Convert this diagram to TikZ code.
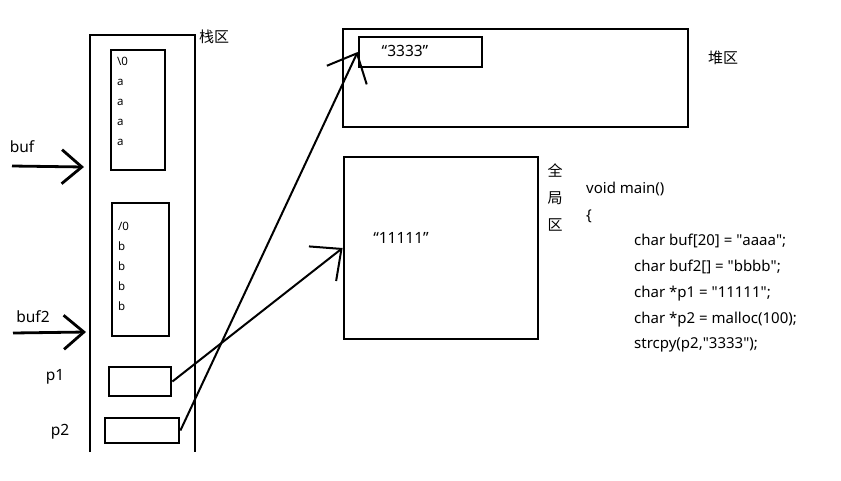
\documentclass[tikz,border=0pt]{standalone}
\usepackage{fontspec}
\setmainfont{Noto Sans}
\newfontfamily\cjk{Noto Sans CJK SC}
\usetikzlibrary{arrows.meta}

\begin{document}
\begin{tikzpicture}[x=1pt, y=-1pt,
    box/.style={draw, line width=2.8pt, inner sep=0pt},
    char/.style={font=\fontsize{11.5}{13}\selectfont, inner sep=0pt, anchor=base west},
    code/.style={font=\fontsize{15}{17}\selectfont, inner sep=0pt, anchor=base west},
    var/.style={font=\fontsize{15.5}{17}\selectfont, inner sep=0pt},
    zone/.style={font=\cjk\fontsize{15}{27}\selectfont, inner sep=0pt, align=center},
    hand/.style={line width=2.8pt, -{Straight Barb[length=20pt, width=34pt]}},
    ptr/.style={line width=2pt, -{Straight Barb[length=24pt, width=44pt]}}]

\useasboundingbox (0,0) rectangle (841,480);

% stack
\draw[line width=2.8pt] (90,452) -- (90,35) -- (195,35) -- (195,452);
\node[zone] (stacklabel) at (214,37) {栈区};

\node[box, minimum width=54pt, minimum height=120pt] (buf) at (138,110) {};
\node[char] (a0) at (117,65) {\textbackslash0};
\node[char] (a1) at (117,85) {a};
\node[char] (a2) at (117,105) {a};
\node[char] (a3) at (117,125) {a};
\node[char] (a4) at (117,145) {a};

\node[box, minimum width=57pt, minimum height=133pt] (buf2) at (140.5,269.5) {};
\node[char] (b0) at (118,230) {/0};
\node[char] (b1) at (118,250) {b};
\node[char] (b2) at (118,270) {b};
\node[char] (b3) at (118,290) {b};
\node[char] (b4) at (118,310) {b};

\node[box, minimum width=62pt, minimum height=29pt] (p1) at (140,381.5) {};
\node[box, minimum width=74pt, minimum height=25pt] (p2) at (142,430.5) {};

\node[var] (buflabel) at (22,147) {buf};
\node[var] (buf2label) at (33,317) {buf2};
\node[var] (p1label) at (55,377) {p1};
\node[var] (p2label) at (60,432) {p2};

\coordinate (bufstart) at (12,166);
\coordinate (bufend) at (84,167);
\coordinate (buf2start) at (13,333);
\coordinate (buf2end) at (86,332);
\draw[hand] (bufstart) -- (bufend);
\draw[hand] (buf2start) -- (buf2end);

% heap
\node[box, minimum width=345pt, minimum height=98pt] (heap) at (515.5,78) {};
\node[box, minimum width=123pt, minimum height=30pt] (str3) at (420.5,52) {};
\node[var] (str3text) at (405,51) {“3333”};
\node[zone] (heaplabel) at (723,58) {堆区};

% global
\node[box, minimum width=194pt, minimum height=182pt] (global) at (441,248) {};
\node[var] (str1text) at (401,238) {“11111”};
\node[zone] (globallabel) at (555,197) {全\\局\\区};

\draw[ptr] (p1.east) -- (global.west);
\draw[ptr] (p2.east) -- (str3.west);

% code
\node[code] (line0) at (586,193) {void main()};
\node[code] (line1) at (586,220) {\{};
\node[code] (line2) at (634,245) {char buf[20] = \textquotedbl aaaa\textquotedbl;};
\node[code] (line3) at (634,271) {char buf2[] = \textquotedbl bbbb\textquotedbl;};
\node[code] (line4) at (634,297) {char *p1 = \textquotedbl 11111\textquotedbl;};
\node[code] (line5) at (634,323) {char *p2 = malloc(100);};
\node[code] (line6) at (634,348) {strcpy(p2,\textquotedbl 3333\textquotedbl);};

\end{tikzpicture}
\end{document}
